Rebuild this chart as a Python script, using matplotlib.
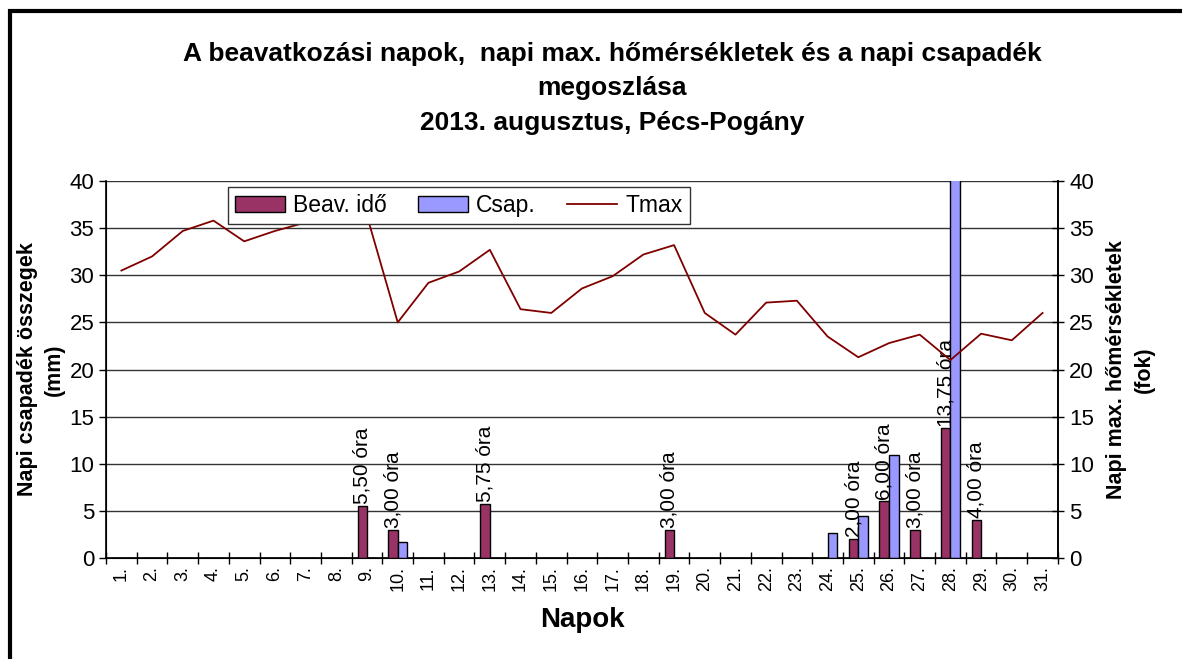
import numpy as np
import matplotlib
matplotlib.use("Agg")
import matplotlib.pyplot as plt
from matplotlib.patches import Rectangle

plt.rcParams['font.family'] = ['Liberation Sans', 'DejaVu Sans']

# data (August 2013)
days = [f"{d}." for d in range(1, 32)]
beav = [0, 0, 0, 0, 0, 0, 0, 0, 5.5, 3.0, 0, 0, 5.75, 0, 0, 0, 0, 0, 3.0, 0,
        0, 0, 0, 0, 2.0, 6.0, 3.0, 13.75, 4.0, 0, 0]
csap = [0, 0, 0, 0, 0, 0, 0, 0, 0, 1.7, 0, 0, 0, 0, 0, 0, 0, 0, 0, 0,
        0, 0, 0, 2.7, 4.5, 10.9, 0, 45.0, 0, 0, 0]
tmax = [30.5, 32.0, 34.7, 35.8, 33.6, 34.7, 35.6, 36.0, 36.3, 25.0,
        29.2, 30.4, 32.7, 26.4, 26.0, 28.6, 29.9, 32.2, 33.2, 26.0,
        23.7, 27.1, 27.3, 23.5, 21.3, 22.8, 23.7, 21.0, 23.8, 23.1, 26.0]

title = ("A beavatkozási napok,  napi max. hőmérsékletek és a napi csapadék\n"
         "megoszlása\n2013. augusztus, Pécs-Pogány")

fig = plt.figure(figsize=(11.82, 6.59), dpi=100)
ax = fig.add_axes([0.0897, 0.1533, 0.8053, 0.572])

x = np.arange(len(days))
w = 0.31
b1 = ax.bar(x - w / 2, beav, w, color="#993366", edgecolor="black", lw=1.0,
            label="Beav. idő", zorder=3)
b2 = ax.bar(x + w / 2, csap, w, color="#9999FF", edgecolor="black", lw=1.0,
            label="Csap.", zorder=3)

for xi, v in zip(x, beav):
    if v > 0:
        ax.text(xi - w / 2, v + 0.2, f"{v:.2f}".replace(".", ",") + " óra",
                rotation=90, ha="center", va="bottom", fontsize=15, zorder=5)

ax.set_xlim(-0.5, len(days) - 0.5)
ax.set_ylim(0, 40)
ax.set_yticks(range(0, 41, 5))
ax.set_xticks(x)
ax.set_xticklabels(days, rotation=90, fontsize=13)
ax.tick_params(axis="x", length=0, pad=6)
ax.set_xticks(np.arange(-0.5, len(days)), minor=True)
ax.tick_params(axis="x", which="minor", direction="inout", length=9, width=1)
ax.tick_params(axis="y", direction="out", length=5, width=1, labelsize=16)
ax.grid(axis="y", color="#333333", lw=1.0, zorder=0)
ax.spines["top"].set_visible(False)
for s in ("left", "right", "bottom"):
    ax.spines[s].set_linewidth(1.2)

ax.set_ylabel("Napi csapadék összegek\n(mm)", fontsize=15.5, fontweight="bold",
              labelpad=3, linespacing=1.38)
ax.set_xlabel("Napok", fontsize=20, fontweight="bold", labelpad=11)

ax2 = ax.twinx()
l1, = ax2.plot(x, tmax, color="#800000", lw=1.3, label="Tmax", zorder=4)
ax2.set_ylim(0, 40)
ax2.set_yticks(range(0, 41, 5))
ax2.tick_params(axis="y", direction="inout", length=9, width=1, labelsize=16)
ax2.spines["top"].set_visible(False)
ax2.spines["right"].set_linewidth(1.2)
ax2.set_ylabel("Napi max. hőmérsékletek\n(fok)", fontsize=15.5, fontweight="bold",
               labelpad=9, linespacing=1.4)

leg = ax2.legend([b1, b2, l1], ["Beav. idő", "Csap.", "Tmax"], ncol=3,
                 loc="upper left", bbox_to_anchor=(0.128, 0.984), fontsize=16.5,
                 frameon=True, fancybox=False, edgecolor="#333333",
                 framealpha=1.0, handlelength=2.2, handleheight=0.65,
                 columnspacing=1.35, borderpad=0.3, handletextpad=0.35,
                 borderaxespad=0)
leg.get_frame().set_linewidth(1.0)
leg.set_zorder(10)

fig.suptitle(title, fontsize=19, fontweight="bold", y=0.937, x=0.518,
             linespacing=1.56)

fig.patches.append(Rectangle((0.0085, -0.1), 1.2, 1.084, transform=fig.transFigure,
                             fill=False, edgecolor="black", lw=3))

fig.savefig("out.png", dpi=100)
